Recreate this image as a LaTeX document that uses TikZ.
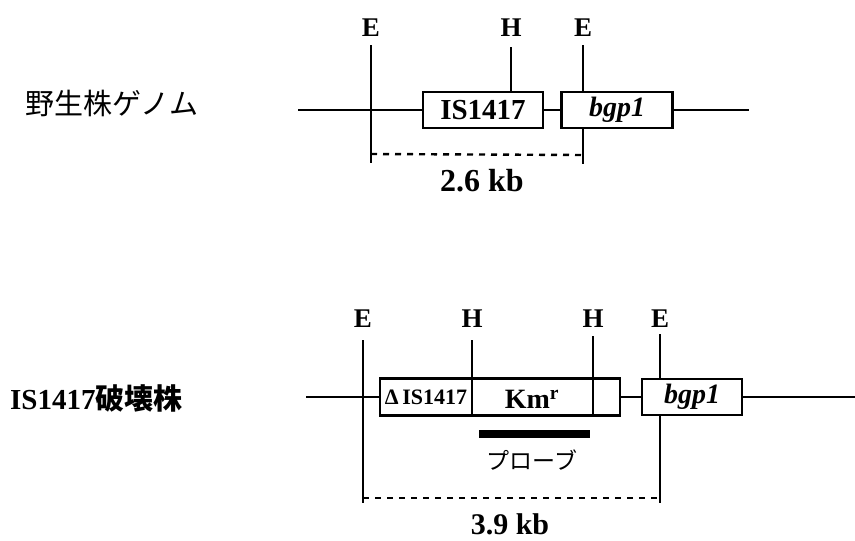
\documentclass[tikz,border=0pt]{standalone}
\usepackage{fontspec}
\setmainfont{Liberation Serif}
\newfontfamily\jpfont{Noto Sans CJK JP}
\usepackage{tikz}
\usetikzlibrary{positioning}

\begin{document}
\begin{tikzpicture}[
      x=1pt, y=-1pt,
      site/.style={font=\fontsize{27}{27}\selectfont\bfseries, inner sep=0pt},
      gene/.style={draw, line width=2.4pt, fill=white, minimum height=36pt,
                   inner sep=0pt, font=\fontsize{29}{29}\selectfont\bfseries},
      dna/.style={line width=2.4pt},
      dim/.style={line width=2.4pt, dash pattern=on 6pt off 6pt},
      probe/.style={line width=8pt},
      size/.style={font=\fontsize{32}{32}\selectfont\bfseries, inner sep=0pt}
    ]
    \useasboundingbox (0,0) rectangle (855,541);

    % wild type
    \node[anchor=west, inner sep=0pt, font=\jpfont\fontsize{29}{29}\selectfont]
         (wtlab) at (25,103) {野生株ゲノム};
    \coordinate (wl) at (298,110);
    \coordinate (wr) at (749,110);
    \node[gene, minimum width=120pt] (wis) at (483,110) {IS1417};
    \node[gene, minimum width=111pt, font=\fontsize{28}{28}\selectfont\bfseries]
         (wbg) at (617,110) {\textit{bgp1}};
    \draw[dna] (wl) -- (wis.west);
    \draw[dna] (wis.east) -- (wbg.west);
    \draw[dna] (wbg.east) -- (wr);

    \coordinate (we1t) at (371,45);
    \coordinate (we1b) at (371,163);
    \coordinate (wht)  at (511,47);
    \coordinate (we2t) at (583,45);
    \coordinate (we2b) at (583,164);
    \node[site, above=8pt of we1t] (we1) {E};
    \node[site, above=10pt of wht] (wh)  {H};
    \node[site, above=8pt of we2t] (we2) {E};
    \draw[dna] (we1t) -- (we1b);
    \draw[dna] (wht) -- (wht |- wis.north);
    \draw[dna] (we2t) -- (we2t |- wbg.north);
    \draw[dna] (we2t |- wbg.south) -- (we2b);
    \draw[dim] ([yshift=9pt]we1b) -- ([yshift=9pt]we2b);
    \node[size] (wsize) at (482,181) {2.6 kb};

    % disruptant
    \node[anchor=west, inner sep=0pt, font=\fontsize{29}{29}\selectfont\bfseries]
         (mulab) at (10,398) {IS1417{\jpfont\bfseries 破壊株}};
    \coordinate (ml) at (306,397);
    \coordinate (mr) at (855,397);
    \node[gene, minimum width=240pt, minimum height=37pt] (mbox) at (500,397) {};
    \node[gene, minimum width=100pt, font=\fontsize{28}{28}\selectfont\bfseries]
         (mbg) at (692,397) {\textit{bgp1}};
    \draw[dna] (ml) -- (mbox.west);
    \draw[dna] (mbox.east) -- (mbg.west);
    \draw[dna] (mbg.east) -- (mr);

    \coordinate (me1t) at (363,340);
    \coordinate (me1b) at (363,503);
    \coordinate (mh1t) at (472,340);
    \coordinate (mh2t) at (593,336);
    \coordinate (me2t) at (660,334);
    \coordinate (me2b) at (660,503);
    \node[site, above=12pt of me1t] (me1) {E};
    \node[site, above=12pt of mh1t] (mh1) {H};
    \node[site, above=8pt of mh2t]  (mh2) {H};
    \node[site, above=6pt of me2t]  (me2) {E};
    \draw[dna] (me1t) -- (me1b);
    \draw[dna] (mh1t) -- (mh1t |- mbox.south);
    \draw[dna] (mh2t) -- (mh2t |- mbox.south);
    \draw[dna] (me2t) -- (me2t |- mbg.north);
    \draw[dna] (me2t |- mbg.south) -- (me2b);
    \node[inner sep=0pt, font=\fontsize{22}{22}\selectfont\bfseries]
         (mis) at (426,397) {Δ\,IS1417};
    \node[inner sep=0pt, font=\fontsize{28}{28}\selectfont\bfseries]
         (mkm) at (532,399) {Km\textsuperscript{r}};
    \draw[dim] ([yshift=5pt]me1b) -- ([yshift=5pt]me2b);

    \coordinate (pl) at (479,434);
    \coordinate (pr) at (590,434);
    \draw[probe] (pl) -- (pr);
    \node[inner sep=0pt, font=\jpfont\fontsize{23}{23}\selectfont]
         (plab) at (532,460) {プローブ};
    \node[size, font=\fontsize{30}{30}\selectfont\bfseries] (msize) at (510,524) {3.9 kb};
  \end{tikzpicture}
\end{document}
